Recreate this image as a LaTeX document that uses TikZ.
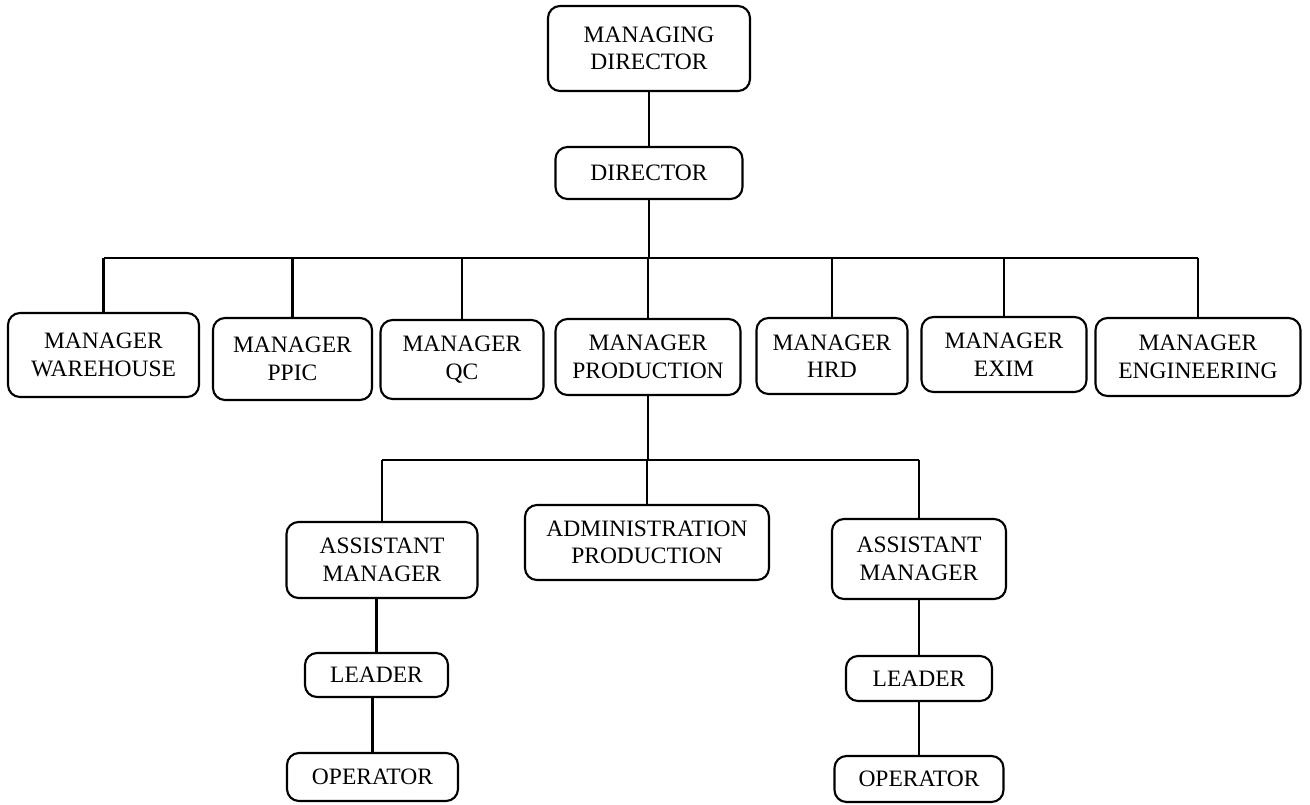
\documentclass[tikz,border=0pt]{standalone}
\usepackage{fontspec}
\setmainfont{Liberation Serif}
\begin{document}
\begin{tikzpicture}[x=1pt,y=-1pt,
  box/.style={draw=black, line width=2.1pt, rounded corners=12pt, align=center,
    inner sep=0pt, font=\fontsize{23.5}{27.5}\selectfont},
  link/.style={draw=black, line width=2.1pt}]
\useasboundingbox (0,0) rectangle (1310,804);

% top management
\node[box, minimum width=202pt, minimum height=85pt] (md)  at (649,48.5) {MANAGING\\DIRECTOR};
\node[box, minimum width=187pt, minimum height=52pt] (dir) at (649,173) {DIRECTOR};

% department managers
\node[box, minimum width=191pt, minimum height=84pt] (wh)   at (103.5,355)  {MANAGER\\WAREHOUSE};
\node[box, minimum width=159pt, minimum height=82pt] (ppic) at (292.5,359)  {MANAGER\\PPIC};
\node[box, minimum width=163pt, minimum height=79pt] (qc)   at (462,359.5)  {MANAGER\\QC};
\node[box, minimum width=185pt, minimum height=76pt] (prod) at (648,357)    {MANAGER\\PRODUCTION};
\node[box, minimum width=151pt, minimum height=76pt] (hrd)  at (832,356)    {MANAGER\\HRD};
\node[box, minimum width=165pt, minimum height=75pt] (exim) at (1004,354.5) {MANAGER\\EXIM};
\node[box, minimum width=205pt, minimum height=78pt] (eng)  at (1198,357)   {MANAGER\\ENGINEERING};

% production staff
\node[box, minimum width=191pt, minimum height=76pt] (am1) at (382,560)   {ASSISTANT\\MANAGER};
\node[box, minimum width=244pt, minimum height=75pt] (adm) at (647,542.5) {ADMINISTRATION\\PRODUCTION};
\node[box, minimum width=174pt, minimum height=80pt] (am2) at (919,559)   {ASSISTANT\\MANAGER};

\node[box, minimum width=143pt, minimum height=44pt] (ld1) at (376.5,675)  {LEADER};
\node[box, minimum width=171pt, minimum height=48pt] (op1) at (372.5,777)  {OPERATOR};
\node[box, minimum width=146pt, minimum height=45pt] (ld2) at (919,678.5)  {LEADER};
\node[box, minimum width=169pt, minimum height=46pt] (op2) at (919,779)    {OPERATOR};

% buses
\coordinate (busA) at (0,258);
\coordinate (busB) at (0,460);

% connectors
\draw[link] (md) -- (dir);
\draw[link] (dir.south) -- (dir.south |- busA);
\draw[link] (wh.north |- busA) -- (eng.north |- busA);
\foreach \n in {wh,ppic,qc,prod,hrd,exim,eng}
  \draw[link] (\n.north) -- (\n.north |- busA);

\draw[link] (prod.south) -- (prod.south |- busB);
\draw[link] (am1.north |- busB) -- (am2.north |- busB);
\foreach \n in {am1,adm,am2}
  \draw[link] (\n.north) -- (\n.north |- busB);

\draw[link] (am1.south -| ld1) -- (ld1.north);
\draw[link] (ld1.south -| op1) -- (op1.north);
\draw[link] (am2) -- (ld2);
\draw[link] (ld2) -- (op2);
\end{tikzpicture}
\end{document}
